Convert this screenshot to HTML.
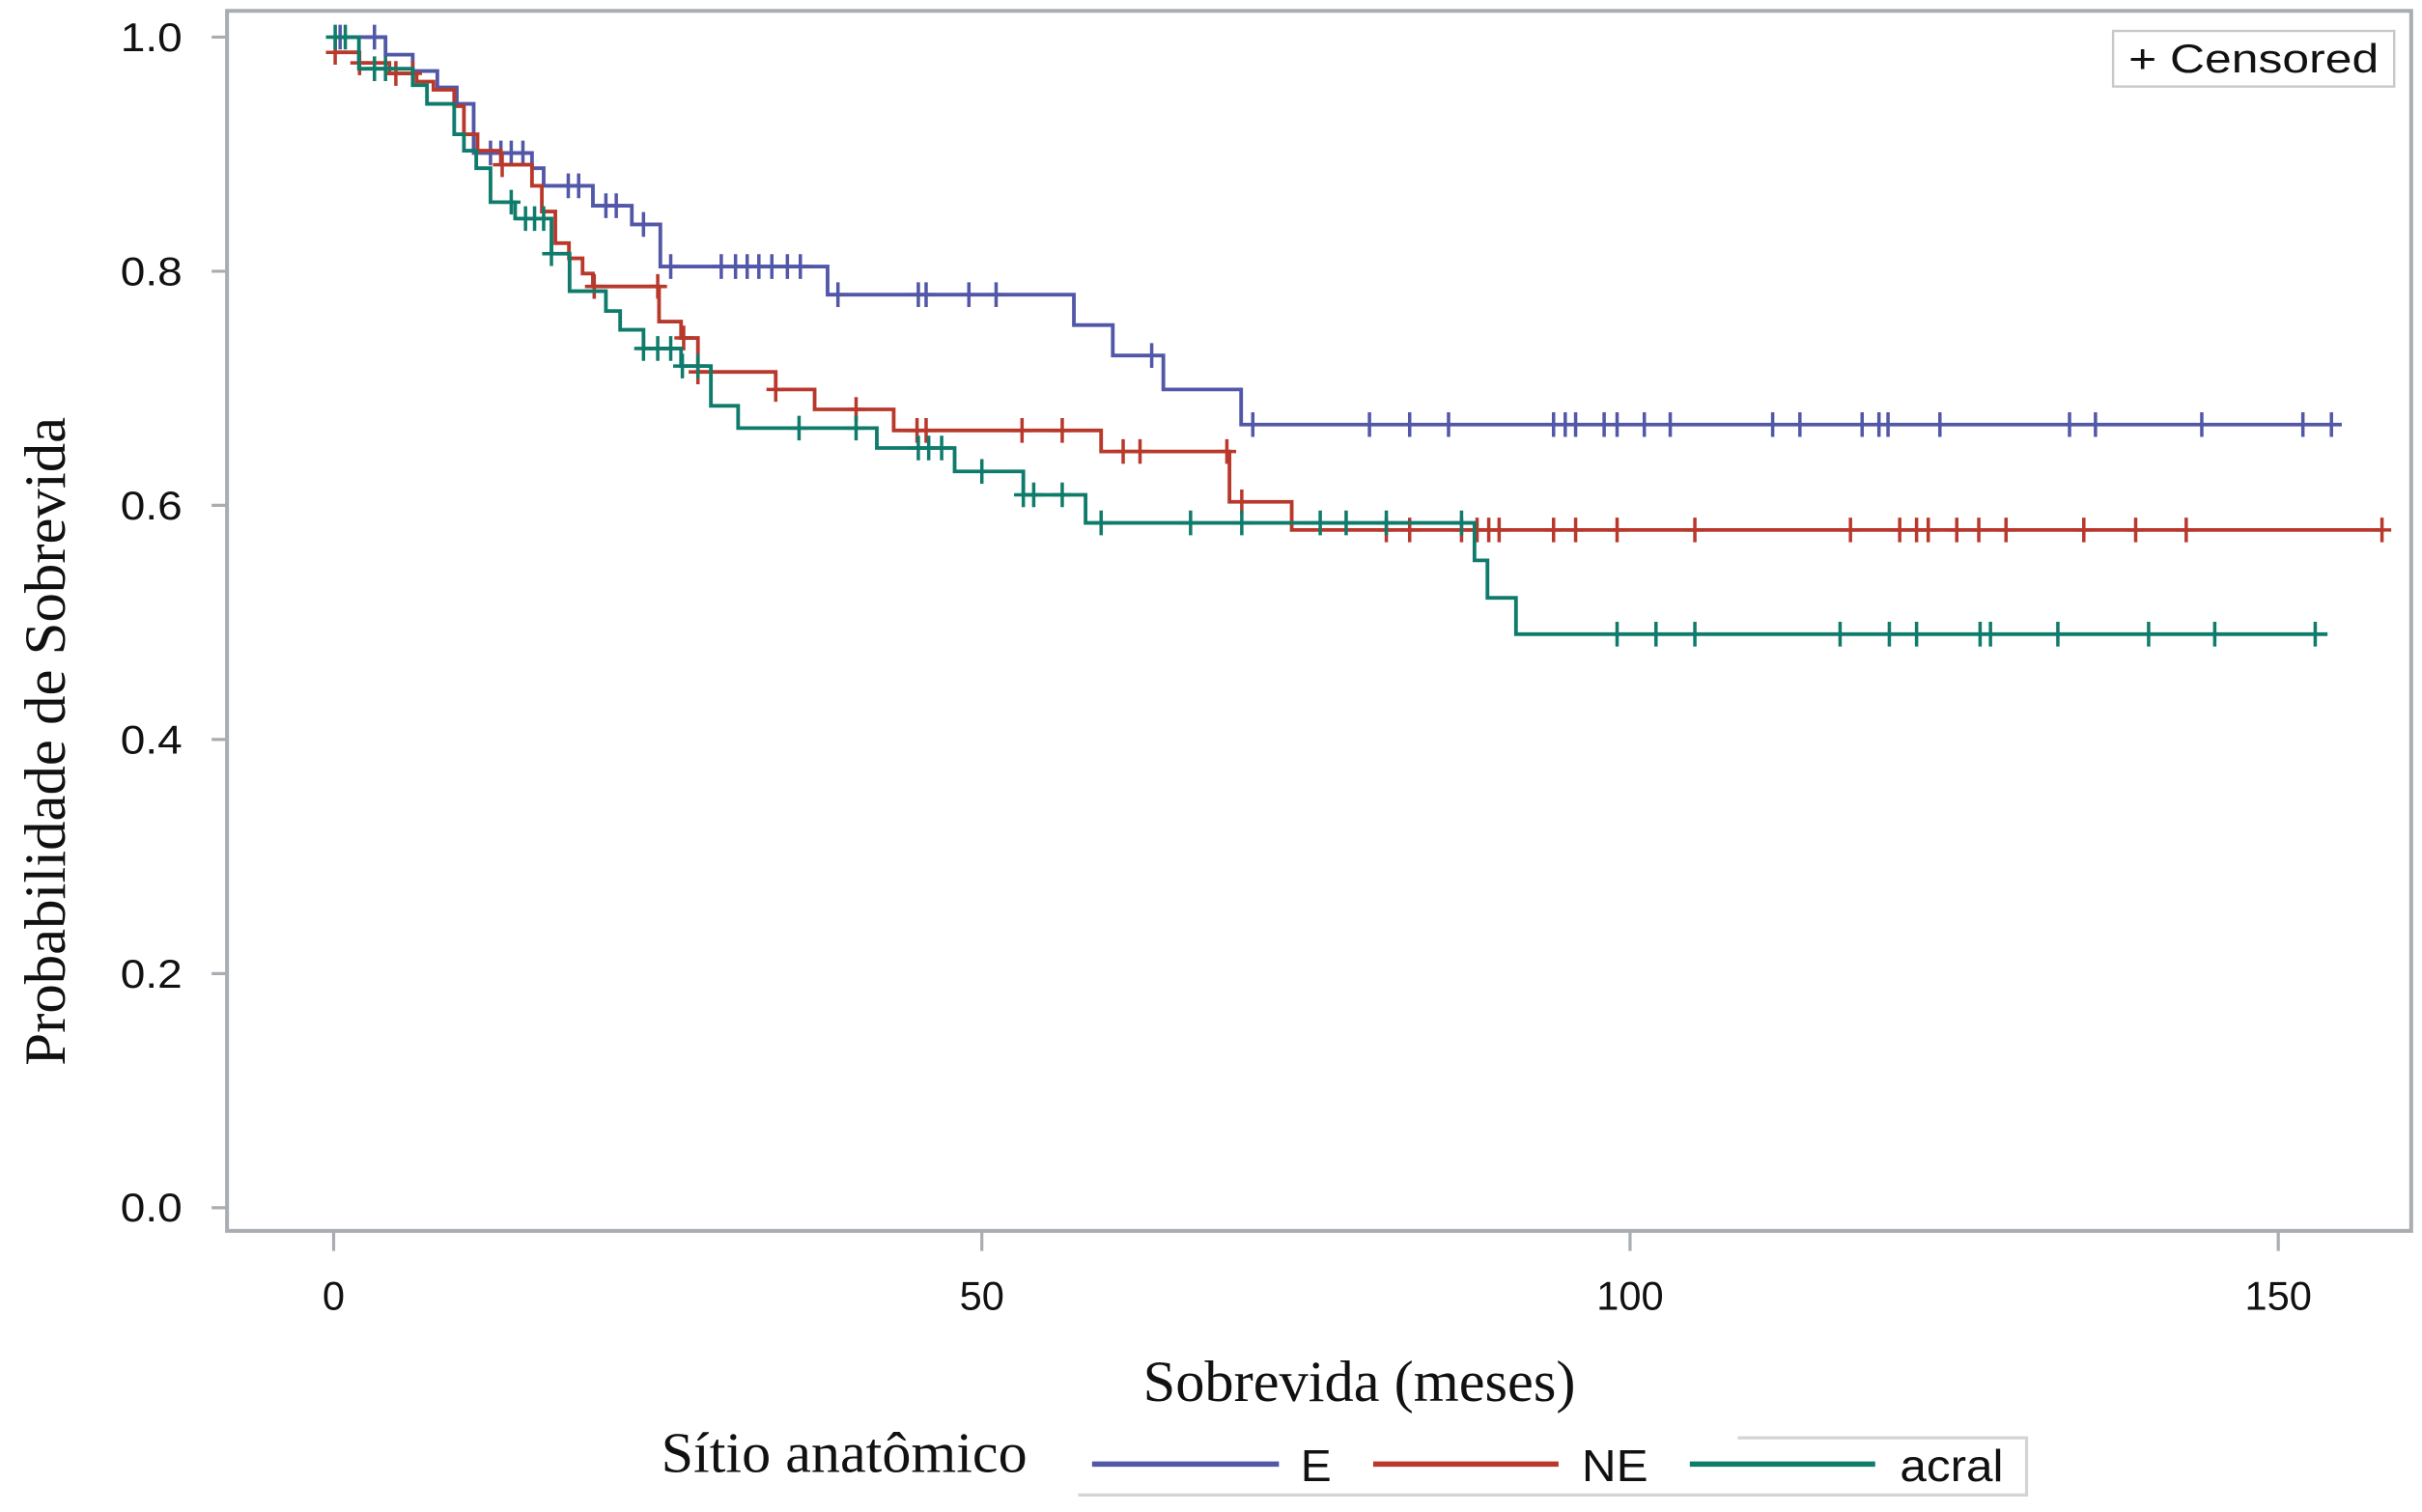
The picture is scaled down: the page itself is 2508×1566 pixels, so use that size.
<!DOCTYPE html>
<html><head><meta charset="utf-8"><style>
html,body{margin:0;padding:0;background:#fff;}
svg{display:block;}
</style></head><body>
<svg id="chart" width="2508" height="1566" viewBox="0 0 1568 979" xmlns="http://www.w3.org/2000/svg">
<rect x="0" y="0" width="1568" height="979" fill="#fff"/>
<rect x="147" y="7" width="1414" height="790" fill="none" stroke="#a9adb1" stroke-width="2.5"/>
<g id="axes"></g>
<g id="series"></g>
<g>
<rect x="1368" y="20" width="182" height="36" fill="#fff" stroke="#c8c8c8" stroke-width="1.5"/>
<text x="1378" y="47" textLength="162" lengthAdjust="spacingAndGlyphs" font-family="Liberation Sans, sans-serif" font-size="26" fill="#111">+ Censored</text>
</g>
<text transform="translate(42,480) rotate(-90)" text-anchor="middle" textLength="420" lengthAdjust="spacingAndGlyphs" font-family="Liberation Serif, serif" font-size="38" fill="#111">Probabilidade de Sobrevida</text>
<text x="740" y="907" textLength="280" lengthAdjust="spacingAndGlyphs" font-family="Liberation Serif, serif" font-size="38" fill="#111">Sobrevida (meses)</text>
<g>
<text x="428" y="953" textLength="237" lengthAdjust="spacingAndGlyphs" font-family="Liberation Serif, serif" font-size="37" fill="#111">Sítio anatômico</text>
<path d="M698 968 H1312 V931 H1125" fill="none" stroke="#d4d4d4" stroke-width="2"/>
<g><line x1="707" y1="948" x2="828" y2="948" stroke="#5257a8" stroke-width="3.5"/><text x="842" y="959" textLength="20" lengthAdjust="spacingAndGlyphs" font-family="Liberation Sans, sans-serif" font-size="29" fill="#111">E</text></g>
<g><line x1="889" y1="948" x2="1009" y2="948" stroke="#b8392c" stroke-width="3.5"/><text x="1024" y="959" textLength="43" lengthAdjust="spacingAndGlyphs" font-family="Liberation Sans, sans-serif" font-size="29" fill="#111">NE</text></g>
<g><line x1="1094" y1="948" x2="1214" y2="948" stroke="#0f7b6b" stroke-width="3.5"/><text x="1230" y="959" textLength="67" lengthAdjust="spacingAndGlyphs" font-family="Liberation Sans, sans-serif" font-size="29" fill="#111">acral</text></g>
</g>
</svg>
<script>
const xTicks = [0, 50, 100, 150];
const yTicks = [0.0, 0.2, 0.4, 0.6, 0.8, 1.0];
const yTickLabels = ["0.0", "0.2", "0.4", "0.6", "0.8", "1.0"];

const eTimes = [0, 4.0, 6.1, 8.0, 9.5, 10.8, 15.3, 16.2, 20.0, 23.0, 25.2, 38.1, 57.1, 60.1, 64.0, 70.0];
const eValues = [1.0, 0.985, 0.971, 0.957, 0.943, 0.901, 0.888, 0.873, 0.856, 0.840, 0.804, 0.780, 0.754, 0.728, 0.699, 0.669];
const eEnd = 154.9;
const eCensor = [0.5, 3.15, 12.1, 12.9, 13.7, 14.6, 18.1, 18.9, 21.0, 21.8, 23.9, 26.0, 29.9, 31.0, 31.9, 32.8, 33.8, 35.0, 36.0, 38.9, 45.1, 45.7, 49.0, 51.1, 63.1, 70.9, 79.9, 83.0, 86.0, 94.1, 95.0, 95.8, 98.0, 99.0, 101.1, 103.1, 111.0, 113.1, 117.9, 119.2, 119.9, 123.9, 133.9, 135.9, 144.1, 151.9, 154.1];

const neTimes = [0, 1.95, 4.3, 6.4, 7.7, 9.3, 10.05, 11.1, 12.9, 15.3, 16.06, 17.1, 18.15, 19.2, 20.0, 25.1, 26.8, 28.1, 34.1, 37.1, 43.2, 59.2, 69.1, 73.9];
const neValues = [0.987, 0.978, 0.969, 0.962, 0.955, 0.941, 0.917, 0.903, 0.891, 0.873, 0.851, 0.824, 0.811, 0.798, 0.787, 0.757, 0.743, 0.714, 0.699, 0.682, 0.664, 0.646, 0.603, 0.579];
const neEnd = 158.0;
const neCensor = [0.12, 2.0, 4.8, 6.1, 13.0, 20.1, 25.0, 27.0, 28.1, 34.1, 40.3, 45.0, 45.7, 53.1, 56.2, 60.9, 62.2, 68.9, 70.05, 81.2, 83.0, 87.0, 88.2, 89.1, 89.9, 94.1, 95.8, 99.0, 105.0, 117.0, 120.8, 122.1, 123.0, 125.2, 126.9, 129.0, 135.0, 139.0, 142.9, 158.0];

const acTimes = [0, 1.95, 6.1, 7.2, 9.3, 10.05, 11.0, 12.1, 14.0, 16.8, 18.2, 21.0, 22.1, 23.9, 26.8, 29.1, 31.2, 41.9, 47.9, 53.2, 58.0, 88.0, 89.0, 91.2];
const acValues = [1.0, 0.973, 0.959, 0.943, 0.917, 0.903, 0.888, 0.859, 0.845, 0.815, 0.783, 0.766, 0.750, 0.734, 0.719, 0.685, 0.666, 0.649, 0.629, 0.609, 0.585, 0.553, 0.521, 0.490];
const acEnd = 153.8;
const acCensor = [0.12, 0.9, 3.15, 4.0, 13.7, 14.8, 15.5, 16.2, 16.8, 23.9, 25.0, 26.0, 26.9, 28.1, 35.9, 40.3, 45.1, 45.9, 46.9, 50.0, 53.2, 54.0, 56.2, 59.2, 66.1, 70.05, 76.1, 78.1, 81.2, 87.0, 99.0, 102.0, 105.0, 116.2, 120.0, 122.1, 127.0, 127.8, 133.0, 140.0, 145.1, 152.85];

const NS = "http://www.w3.org/2000/svg";
const X0 = 216, XPM = 8.393, Y0 = 782, YPU = 758;
function sx(t){ return X0 + t * XPM; }
function sy(p){ return Y0 - p * YPU; }

const axes = document.getElementById('axes');
for (let i = 0; i < yTicks.length; i++) {
  const y = sy(yTicks[i]);
  const l = document.createElementNS(NS, 'line');
  l.setAttribute('x1', 137); l.setAttribute('x2', 147);
  l.setAttribute('y1', y); l.setAttribute('y2', y);
  l.setAttribute('stroke', '#a9adb1'); l.setAttribute('stroke-width', 2);
  
  
  axes.appendChild(l);
  const t = document.createElementNS(NS, 'text');
  t.setAttribute('x', 78); t.setAttribute('y', y + 9);
  t.setAttribute('textLength', 40);
  t.setAttribute('lengthAdjust', 'spacingAndGlyphs');
  t.setAttribute('font-family', 'Liberation Sans, sans-serif');
  t.setAttribute('font-size', 26); t.setAttribute('fill', '#111');
  t.textContent = yTickLabels[i];
  
  
  axes.appendChild(t);
}
for (let i = 0; i < xTicks.length; i++) {
  const x = sx(xTicks[i]);
  const l = document.createElementNS(NS, 'line');
  l.setAttribute('x1', x); l.setAttribute('x2', x);
  l.setAttribute('y1', 797); l.setAttribute('y2', 810);
  l.setAttribute('stroke', '#a9adb1'); l.setAttribute('stroke-width', 2);
  
  
  axes.appendChild(l);
  const t = document.createElementNS(NS, 'text');
  t.setAttribute('x', x); t.setAttribute('y', 848);
  t.setAttribute('text-anchor', 'middle');
  t.setAttribute('font-family', 'Liberation Sans, sans-serif');
  t.setAttribute('font-size', 26); t.setAttribute('fill', '#111');
  t.textContent = String(xTicks[i]);
  
  
  axes.appendChild(t);
}

function valueAt(times, values, t){
  let v = values[0];
  for (let i = 0; i < times.length; i++) if (times[i] <= t) v = values[i];
  return v;
}
const series = document.getElementById('series');
function drawSeries(name, times, values, end, censor, color){
  const g = document.createElementNS(NS, 'g');
  
  
  let d = 'M' + sx(times[0]) + ' ' + sy(values[0]);
  for (let i = 1; i < times.length; i++) {
    d += ' H' + sx(times[i]) + ' V' + sy(values[i]);
  }
  d += ' H' + sx(end);
  const p = document.createElementNS(NS, 'path');
  p.setAttribute('d', d);
  p.setAttribute('fill', 'none'); p.setAttribute('stroke', color);
  p.setAttribute('stroke-width', 2.4);
  
  
  g.appendChild(p);
  for (let i = 0; i < censor.length; i++) {
    const x = sx(censor[i]), y = sy(valueAt(times, values, censor[i]));
    const c = document.createElementNS(NS, 'path');
    c.setAttribute('d', 'M' + x + ' ' + (y - 8) + ' V' + (y + 8) + ' M' + (x - 6) + ' ' + y + ' H' + (x + 6));
    c.setAttribute('stroke', color); c.setAttribute('stroke-width', 2.2);
    
    
    g.appendChild(c);
  }
  series.appendChild(g);
}
drawSeries('e', eTimes, eValues, eEnd, eCensor, '#5257a8');
drawSeries('ne', neTimes, neValues, neEnd, neCensor, '#b8392c');
drawSeries('acral', acTimes, acValues, acEnd, acCensor, '#0f7b6b');
</script>
</body></html>
